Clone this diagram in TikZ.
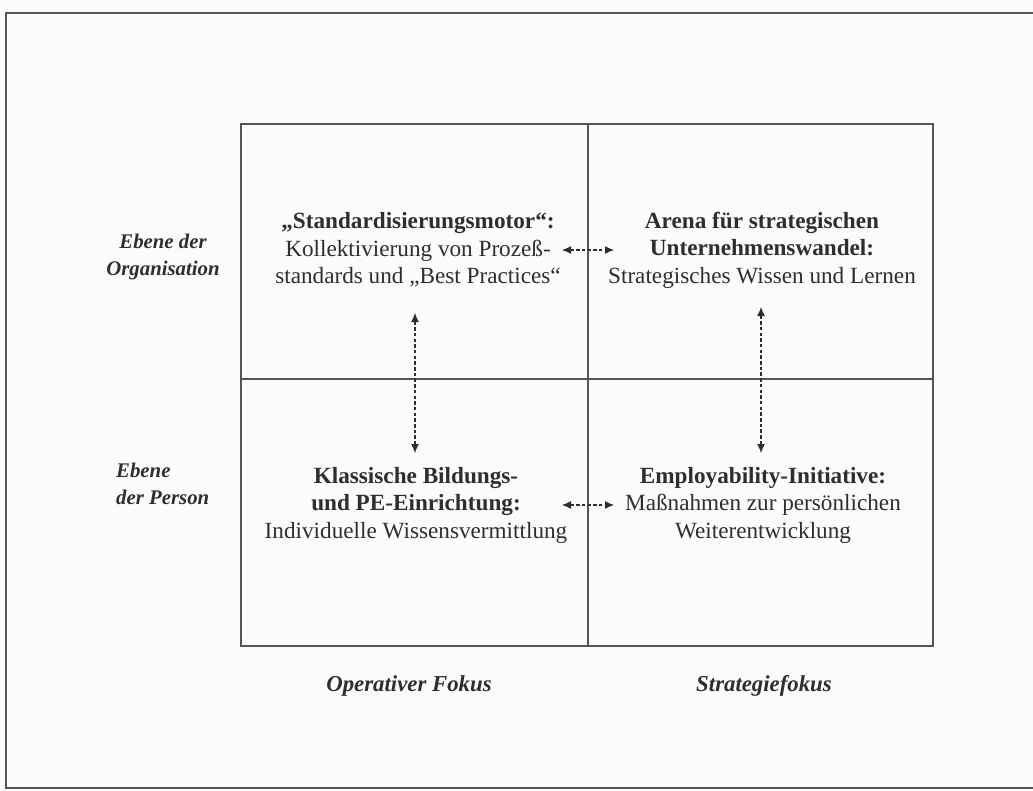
\documentclass[tikz,border=0pt]{standalone}
\usepackage{fontspec}
\setmainfont{Liberation Serif}
\usetikzlibrary{arrows.meta}
\definecolor{ink}{HTML}{2E2E2E}
\definecolor{rule}{HTML}{555555}
\definecolor{paper}{HTML}{FBFBFA}
\tikzset{
  cell/.style={text=ink, align=center, font=\fontsize{23.2}{27.5}\selectfont, inner sep=0pt},
  side/.style={text=ink, font=\fontsize{20.8}{27}\selectfont\bfseries\itshape, inner sep=0pt},
  axis/.style={text=ink, font=\fontsize{22.8}{27}\selectfont\bfseries\itshape, inner sep=0pt},
  gridline/.style={draw=rule, line width=1.3pt},
  link/.style={draw=ink, line width=1.1pt, dash pattern=on 3.5pt off 2.2pt, {Latex[length=9pt,width=8pt]}-{Latex[length=9pt,width=8pt]}}
}
\begin{document}
\begin{tikzpicture}[x=1pt,y=-1pt]
\useasboundingbox (0,0) rectangle (1033,790);
\fill[paper] (0,0) rectangle (1033,790);
% outer frame (cut at the right edge)
\draw[rule, line width=1.8pt] (1040,13) -- (6,13) -- (6,788) -- (1040,788);
% grid
\draw[gridline] (241,124) rectangle (933,646);
\draw[gridline] (588,124) -- (588,646);
\draw[gridline] (241,379) -- (933,379);
% cells
\node[cell] (tl) at (418,250) {\textbf{„Standardisierungsmotor“:}\\Kollektivierung von Prozeß-\\standards und „Best Practices“};
\node[cell] (tr) at (762,250) {\textbf{Arena für strategischen}\\\textbf{Unternehmenswandel:}\\Strategisches Wissen und Lernen};
\node[cell] (bl) at (416,505) {\textbf{Klassische Bildungs-}\\\textbf{und PE-Einrichtung:}\\Individuelle Wissensvermittlung};
\node[cell] (br) at (763,505) {\textbf{Employability-Initiative:}\\Maßnahmen zur persönlichen\\Weiterentwicklung};
% side labels
\node[side, align=center] (org) at (163,257) {Ebene der\\Organisation};
\node[side, align=left, anchor=west] (pers) at (116,484) {Ebene\\der Person};
\node[axis] (op) at (409,686) {Operativer Fokus};
\node[axis] (st) at (764,686) {Strategiefokus};
% connectors
\coordinate (h1a) at (562,250); \coordinate (h1b) at (614,250);
\coordinate (h2a) at (562,505); \coordinate (h2b) at (614,505);
\coordinate (v1a) at (415,313); \coordinate (v1b) at (415,453);
\coordinate (v2a) at (761,307); \coordinate (v2b) at (761,453);
\draw[link] (h1a) -- (h1b);
\draw[link] (h2a) -- (h2b);
\draw[link] (v1a) -- (v1b);
\draw[link] (v2a) -- (v2b);
\end{tikzpicture}
\end{document}
